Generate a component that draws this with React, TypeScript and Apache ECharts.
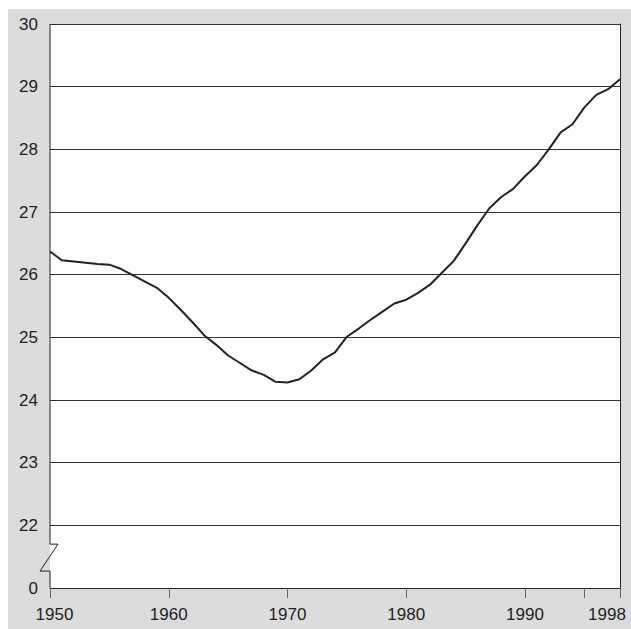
import React, { useEffect, useRef } from "react";
import * as echarts from "echarts";

const years: number[] = [
  1950, 1951, 1952, 1953, 1954, 1955, 1956, 1957, 1958, 1959,
  1960, 1961, 1962, 1963, 1964, 1965, 1966, 1967, 1968, 1969,
  1970, 1971, 1972, 1973, 1974, 1975, 1976, 1977, 1978, 1979,
  1980, 1981, 1982, 1983, 1984, 1985, 1986, 1987, 1988, 1989,
  1990, 1991, 1992, 1993, 1994, 1995, 1996, 1997, 1998,
];
const values: number[] = [
  26.37, 26.23, 26.21, 26.19, 26.17, 26.16, 26.09, 25.99, 25.89, 25.79,
  25.63, 25.44, 25.24, 25.03, 24.88, 24.71, 24.59, 24.47, 24.4, 24.29,
  24.28, 24.33, 24.47, 24.65, 24.76, 25.01, 25.14, 25.28, 25.41, 25.54,
  25.6, 25.71, 25.84, 26.03, 26.22, 26.5, 26.79, 27.06, 27.24, 27.37,
  27.57, 27.75, 28.0, 28.27, 28.4, 28.67, 28.87, 28.96, 29.12,
];
const xTickValues: number[] = [1950, 1960, 1970, 1980, 1990, 1995, 1998];
const xLabelValues: number[] = [1950, 1960, 1970, 1980, 1990, 1998];
// axis break: the "0" baseline is drawn one unit below 22
const axisMin = 21;
const axisMax = 30;
const breakTop = 21.7;
const breakBottom = 21.27;

const FONT = "'Liberation Sans', Arial, sans-serif";
const labelText = { color: "#222", fontSize: 17, fontFamily: FONT };

export default function App() {
  const ref = useRef<HTMLDivElement>(null);
  useEffect(() => {
    if (!ref.current) return;
    document.documentElement.style.overflow = "hidden";
    document.body.style.overflow = "hidden";
    const chart = echarts.init(ref.current, undefined, { renderer: "svg" });
    chart.setOption({
      animation: false,
      backgroundColor: "#dcdcdc",
      grid: {
        left: 42,
        top: 15,
        right: 11,
        bottom: 41,
        containLabel: false,
        outerBoundsMode: "none",
        show: true,
        backgroundColor: "#ffffff",
        borderWidth: 0,
      },
      xAxis: {
        type: "value",
        min: 1950,
        max: 1998,
        axisLine: { show: true, onZero: false, lineStyle: { color: "#222", width: 1 } },
        axisTick: {
          show: true,
          customValues: xTickValues,
          length: 10,
          lineStyle: { color: "#666", width: 1 },
        },
        axisLabel: {
          customValues: xLabelValues,
          ...labelText,
          margin: 18,
          formatter: (v: number) =>
            v === 1950 ? "{first|1950}" : v === 1998 ? "{last|1998}" : "{mid|" + v + "}",
          rich: {
            first: { ...labelText, padding: [0, 0, 0, 9] },
            last: { ...labelText, padding: [0, 26, 0, 0] },
            mid: { ...labelText },
          },
        },
        splitLine: { show: false },
      },
      yAxis: [
        {
          type: "value",
          min: axisMin,
          max: axisMax,
          interval: 1,
          axisLine: { show: false },
          axisTick: { show: false },
          axisLabel: {
            ...labelText,
            margin: 12,
            formatter: (v: number) => (v === axisMin ? "0" : String(v)),
          },
          splitLine: { show: true, lineStyle: { color: "#333", width: 1 } },
        },
        {
          type: "value",
          position: "right",
          min: axisMin,
          max: axisMax,
          interval: 1,
          axisLine: { show: true, lineStyle: { color: "#222", width: 1 } },
          axisTick: { show: false },
          axisLabel: { show: false },
          splitLine: { show: false },
        },
      ],
      series: [
        {
          type: "line",
          data: years.map((y, i) => [y, values[i]]),
          showSymbol: false,
          lineStyle: { color: "#222", width: 2 },
          yAxisIndex: 0,
        },
      ],
    });
    const p = (v: number) => chart.convertToPixel({ xAxisIndex: 0, yAxisIndex: 0 }, [1950, v]) as number[];
    const bt = p(breakTop);
    const bb = p(breakBottom);
    const bottom = p(axisMin);
    const topLine = p(axisMax);
    const x0 = bottom[0];
    chart.setOption({
      graphic: [
        {
          type: "polyline",
          shape: {
            points: [
              [x0, topLine[1]],
              [x0, bt[1]],
              [x0 + 8, bt[1]],
              [x0 - 10, bb[1]],
              [x0, bb[1]],
              [x0, bottom[1]],
            ],
          },
          style: { stroke: "#222", lineWidth: 1, fill: null },
          z: 10,
        },
      ],
    });
    return () => chart.dispose();
  }, []);
  return (
    <div
      ref={ref}
      style={{ position: "fixed", left: 8, top: 9, width: 623, height: 620 }}
    />
  );
}
